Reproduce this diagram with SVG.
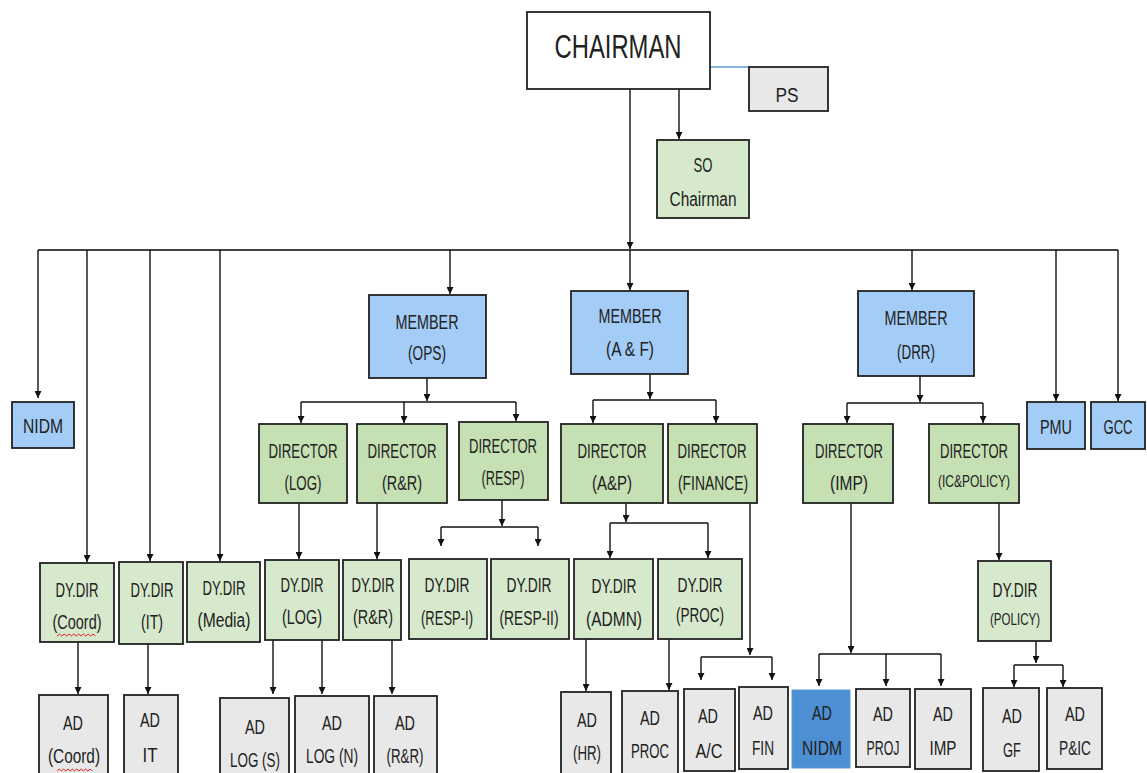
<svg xmlns="http://www.w3.org/2000/svg" width="1147" height="773" viewBox="0 0 1147 773">
<defs>
<marker id="ah" viewBox="0 0 8 8" refX="8" refY="4" markerWidth="7" markerHeight="7" orient="auto" markerUnits="userSpaceOnUse"><path d="M0,0 L8,4 L0,8 z" fill="#111"/></marker>
<style>
.b{stroke:#222;stroke-width:1.8}
.w{fill:#ffffff}
.g{fill:#e8e8e8}
.lb{fill:#a3cdf7}
.dg{fill:#c5e0b3}
.lg{fill:#d7e9cc}
.db{fill:#4d8fd3;stroke:#5b9bd5;stroke-width:1}
.c{fill:none;stroke:#111;stroke-width:1.4}
.ca{fill:none;stroke:#111;stroke-width:1.4;marker-end:url(#ah)}
text{font-family:"Liberation Sans",Arial,sans-serif;font-size:20px;fill:#222;text-anchor:middle}
.s{font-size:17px}
.big{font-size:34px}
.sq{fill:none;stroke:#e02020;stroke-width:1}
</style>
</defs>
<g id="connectors">
<line x1="710" y1="67" x2="749" y2="67" stroke="#5b9bd5" stroke-width="1.6"/>
<path class="ca" d="M679,89 V139"/>
<path class="ca" d="M630,89 V249"/>
<path d="M38,250 H1118" fill="none" stroke="#444" stroke-width="2"/>
<path class="ca" d="M38,250 V398"/>
<path class="ca" d="M87,250 V562"/>
<path class="ca" d="M150,250 V561"/>
<path class="ca" d="M220,250 V561"/>
<path class="ca" d="M450,250 V294"/>
<path class="ca" d="M630,250 V290"/>
<path class="ca" d="M912,250 V290"/>
<path class="ca" d="M1056,250 V401"/>
<path class="ca" d="M1118,250 V401"/>
<path class="ca" d="M427,378 V401"/>
<path class="c" d="M301,402 H516"/>
<path class="ca" d="M301,402 V423"/>
<path class="ca" d="M404,402 V423"/>
<path class="ca" d="M516,402 V421"/>
<path class="ca" d="M650,374 V399"/>
<path class="c" d="M593,400 H716"/>
<path class="ca" d="M593,400 V423"/>
<path class="ca" d="M716,400 V423"/>
<path class="ca" d="M920,376 V402"/>
<path class="c" d="M847,403 H983"/>
<path class="ca" d="M847,403 V423"/>
<path class="ca" d="M983,403 V423"/>
<path class="ca" d="M299,503 V559"/>
<path class="ca" d="M377,503 V559"/>
<path class="ca" d="M502,500 V526"/>
<path class="c" d="M441,527 H538"/>
<path class="ca" d="M441,527 V546"/>
<path class="ca" d="M538,527 V546"/>
<path class="ca" d="M626,503 V522"/>
<path class="c" d="M610,523 H708"/>
<path class="ca" d="M610,523 V558"/>
<path class="ca" d="M708,523 V558"/>
<path class="ca" d="M999,503 V560"/>
<path class="ca" d="M78,642 V694"/>
<path class="ca" d="M148,644 V694"/>
<path class="ca" d="M273,640 V694"/>
<path class="ca" d="M322,640 V694"/>
<path class="ca" d="M392,640 V694"/>
<path class="ca" d="M586,639 V691"/>
<path class="ca" d="M669,639 V690"/>
<path class="ca" d="M750,503 V655"/>
<path class="c" d="M701,657 H772"/>
<path class="ca" d="M701,657 V680"/>
<path class="ca" d="M772,657 V680"/>
<path class="ca" d="M851,503 V653"/>
<path class="c" d="M819,654 H941"/>
<path class="ca" d="M819,654 V686"/>
<path class="ca" d="M886,654 V686"/>
<path class="ca" d="M941,654 V686"/>
<path class="ca" d="M1036,641 V663"/>
<path class="c" d="M1014,665 H1063"/>
<path class="ca" d="M1014,665 V687"/>
<path class="ca" d="M1063,665 V687"/>
</g>
<g id="chairman"><rect class="b w" x="527" y="12" width="183" height="77"/><text class="big" x="618" y="58" textLength="127" lengthAdjust="spacingAndGlyphs">CHAIRMAN</text></g>
<g id="ps"><rect class="b g" x="749" y="67" width="79" height="44"/><text x="787" y="102" textLength="23" lengthAdjust="spacingAndGlyphs">PS</text></g>
<g id="so-chairman"><rect class="b lg" x="657" y="140" width="92" height="78"/><text x="703" y="172" textLength="19" lengthAdjust="spacingAndGlyphs">SO</text><text x="703" y="206" textLength="67" lengthAdjust="spacingAndGlyphs">Chairman</text></g>
<g id="nidm"><rect class="b lb" x="12" y="402" width="62" height="46"/><text x="43" y="433" textLength="40" lengthAdjust="spacingAndGlyphs">NIDM</text></g>
<g id="member-ops"><rect class="b lb" x="369" y="295" width="117" height="83"/><text x="427" y="329" textLength="63" lengthAdjust="spacingAndGlyphs">MEMBER</text><text x="427" y="360" textLength="38" lengthAdjust="spacingAndGlyphs">(OPS)</text></g>
<g id="member-af"><rect class="b lb" x="571" y="291" width="117" height="83"/><text x="630" y="323" textLength="63" lengthAdjust="spacingAndGlyphs">MEMBER</text><text x="630" y="356" textLength="48" lengthAdjust="spacingAndGlyphs">(A &amp; F)</text></g>
<g id="member-drr"><rect class="b lb" x="858" y="291" width="116" height="85"/><text x="916" y="325" textLength="63" lengthAdjust="spacingAndGlyphs">MEMBER</text><text x="916" y="359" textLength="38" lengthAdjust="spacingAndGlyphs">(DRR)</text></g>
<g id="pmu"><rect class="b lb" x="1027" y="402" width="58" height="47"/><text x="1056" y="434" textLength="32" lengthAdjust="spacingAndGlyphs">PMU</text></g>
<g id="gcc"><rect class="b lb" x="1091" y="402" width="54" height="47"/><text x="1118" y="434" textLength="29" lengthAdjust="spacingAndGlyphs">GCC</text></g>
<g id="director-log"><rect class="b dg" x="259" y="424" width="88" height="79"/><text x="303" y="458" textLength="69" lengthAdjust="spacingAndGlyphs">DIRECTOR</text><text x="303" y="490" textLength="37" lengthAdjust="spacingAndGlyphs">(LOG)</text></g>
<g id="director-rr"><rect class="b dg" x="357" y="424" width="90" height="79"/><text x="402" y="458" textLength="69" lengthAdjust="spacingAndGlyphs">DIRECTOR</text><text x="402" y="490" textLength="40" lengthAdjust="spacingAndGlyphs">(R&amp;R)</text></g>
<g id="director-resp"><rect class="b dg" x="459" y="422" width="89" height="78"/><text x="503" y="453" textLength="68" lengthAdjust="spacingAndGlyphs">DIRECTOR</text><text x="503" y="485" textLength="43" lengthAdjust="spacingAndGlyphs">(RESP)</text></g>
<g id="director-ap"><rect class="b dg" x="561" y="424" width="102" height="79"/><text x="612" y="458" textLength="69" lengthAdjust="spacingAndGlyphs">DIRECTOR</text><text x="612" y="490" textLength="40" lengthAdjust="spacingAndGlyphs">(A&amp;P)</text></g>
<g id="director-finance"><rect class="b dg" x="668" y="424" width="89" height="79"/><text x="712" y="458" textLength="69" lengthAdjust="spacingAndGlyphs">DIRECTOR</text><text x="713" y="490" textLength="70" lengthAdjust="spacingAndGlyphs">(FINANCE)</text></g>
<g id="director-imp"><rect class="b dg" x="803" y="424" width="90" height="79"/><text x="849" y="458" textLength="68" lengthAdjust="spacingAndGlyphs">DIRECTOR</text><text x="849" y="490" textLength="38" lengthAdjust="spacingAndGlyphs">(IMP)</text></g>
<g id="director-icpolicy"><rect class="b dg" x="929" y="424" width="90" height="79"/><text x="974" y="458" textLength="68" lengthAdjust="spacingAndGlyphs">DIRECTOR</text><text class="s" x="974" y="487" textLength="72" lengthAdjust="spacingAndGlyphs">(IC&amp;POLICY)</text></g>
<g id="dydir-coord"><rect class="b lg" x="40" y="563" width="74" height="79"/><text x="77" y="597" textLength="43" lengthAdjust="spacingAndGlyphs">DY.DIR</text><text x="77" y="629" textLength="49" lengthAdjust="spacingAndGlyphs">(Coord)</text><path class="sq" d="M57,636 l2.4,-2 l2.4,2 l2.4,-2 l2.4,2 l2.4,-2 l2.4,2 l2.4,-2 l2.4,2 l2.4,-2 l2.4,2 l2.4,-2 l2.4,2 l2.4,-2 l2.4,2 l2.4,-2 l2.4,2"/></g>
<g id="dydir-it"><rect class="b lg" x="119" y="562" width="64" height="82"/><text x="152" y="597" textLength="43" lengthAdjust="spacingAndGlyphs">DY.DIR</text><text x="152" y="629" textLength="22" lengthAdjust="spacingAndGlyphs">(IT)</text></g>
<g id="dydir-media"><rect class="b lg" x="187" y="562" width="73" height="80"/><text x="224" y="595" textLength="43" lengthAdjust="spacingAndGlyphs">DY.DIR</text><text x="224" y="627" textLength="53" lengthAdjust="spacingAndGlyphs">(Media)</text></g>
<g id="dydir-log"><rect class="b lg" x="265" y="560" width="74" height="80"/><text x="302" y="592" textLength="43" lengthAdjust="spacingAndGlyphs">DY.DIR</text><text x="302" y="624" textLength="40" lengthAdjust="spacingAndGlyphs">(LOG)</text></g>
<g id="dydir-rr"><rect class="b lg" x="343" y="560" width="58" height="80"/><text x="373" y="592" textLength="43" lengthAdjust="spacingAndGlyphs">DY.DIR</text><text x="373" y="624" textLength="40" lengthAdjust="spacingAndGlyphs">(R&amp;R)</text></g>
<g id="dydir-resp1"><rect class="b lg" x="409" y="559" width="78" height="80"/><text x="447" y="592" textLength="45" lengthAdjust="spacingAndGlyphs">DY.DIR</text><text x="447" y="625" textLength="52" lengthAdjust="spacingAndGlyphs">(RESP-I)</text></g>
<g id="dydir-resp2"><rect class="b lg" x="491" y="559" width="78" height="80"/><text x="529" y="592" textLength="45" lengthAdjust="spacingAndGlyphs">DY.DIR</text><text x="529" y="625" textLength="59" lengthAdjust="spacingAndGlyphs">(RESP-II)</text></g>
<g id="dydir-admn"><rect class="b lg" x="574" y="559" width="79" height="80"/><text x="614" y="593" textLength="45" lengthAdjust="spacingAndGlyphs">DY.DIR</text><text x="614" y="626" textLength="56" lengthAdjust="spacingAndGlyphs">(ADMN)</text></g>
<g id="dydir-proc"><rect class="b lg" x="658" y="559" width="84" height="80"/><text x="700" y="592" textLength="45" lengthAdjust="spacingAndGlyphs">DY.DIR</text><text x="700" y="622" textLength="48" lengthAdjust="spacingAndGlyphs">(PROC)</text></g>
<g id="dydir-policy"><rect class="b lg" x="978" y="561" width="73" height="80"/><text x="1015" y="597" textLength="45" lengthAdjust="spacingAndGlyphs">DY.DIR</text><text class="s" x="1015" y="625" textLength="50" lengthAdjust="spacingAndGlyphs">(POLICY)</text></g>
<g id="ad-coord"><rect class="b g" x="39" y="695" width="69" height="82"/><text x="73" y="730" textLength="20" lengthAdjust="spacingAndGlyphs">AD</text><text x="74" y="763" textLength="52" lengthAdjust="spacingAndGlyphs">(Coord)</text><path class="sq" d="M57,771 l2.2,-2 l2.2,2 l2.2,-2 l2.2,2 l2.2,-2 l2.2,2 l2.2,-2 l2.2,2 l2.2,-2 l2.2,2 l2.2,-2 l2.2,2 l2.2,-2 l2.2,2 l2.2,-2 l2.2,2"/></g>
<g id="ad-it"><rect class="b g" x="124" y="695" width="54" height="82"/><text x="150" y="727" textLength="20" lengthAdjust="spacingAndGlyphs">AD</text><text x="150" y="762" textLength="15" lengthAdjust="spacingAndGlyphs">IT</text></g>
<g id="ad-log-s"><rect class="b g" x="220" y="698" width="69" height="80"/><text x="255" y="734" textLength="20" lengthAdjust="spacingAndGlyphs">AD</text><text x="255" y="767" textLength="50" lengthAdjust="spacingAndGlyphs">LOG (S)</text></g>
<g id="ad-log-n"><rect class="b g" x="295" y="696" width="74" height="80"/><text x="332" y="730" textLength="20" lengthAdjust="spacingAndGlyphs">AD</text><text x="332" y="763" textLength="52" lengthAdjust="spacingAndGlyphs">LOG (N)</text></g>
<g id="ad-rr"><rect class="b g" x="374" y="696" width="63" height="80"/><text x="405" y="730" textLength="20" lengthAdjust="spacingAndGlyphs">AD</text><text x="405" y="763" textLength="37" lengthAdjust="spacingAndGlyphs">(R&amp;R)</text></g>
<g id="ad-hr"><rect class="b g" x="561" y="692" width="50" height="82"/><text x="587" y="727" textLength="20" lengthAdjust="spacingAndGlyphs">AD</text><text x="587" y="760" textLength="28" lengthAdjust="spacingAndGlyphs">(HR)</text></g>
<g id="ad-proc"><rect class="b g" x="622" y="691" width="56" height="83"/><text x="650" y="725" textLength="20" lengthAdjust="spacingAndGlyphs">AD</text><text x="650" y="758" textLength="38" lengthAdjust="spacingAndGlyphs">PROC</text></g>
<g id="ad-ac"><rect class="b g" x="684" y="689" width="51" height="82"/><text x="708" y="723" textLength="20" lengthAdjust="spacingAndGlyphs">AD</text><text x="709" y="758" textLength="27" lengthAdjust="spacingAndGlyphs">A/C</text></g>
<g id="ad-fin"><rect class="b g" x="739" y="687" width="49" height="82"/><text x="763" y="720" textLength="20" lengthAdjust="spacingAndGlyphs">AD</text><text x="763" y="755" textLength="22" lengthAdjust="spacingAndGlyphs">FIN</text></g>
<g id="ad-nidm"><rect class="db" x="792" y="690" width="58" height="78"/><text x="822" y="720" textLength="20" lengthAdjust="spacingAndGlyphs">AD</text><text x="822" y="755" textLength="40" lengthAdjust="spacingAndGlyphs">NIDM</text></g>
<g id="ad-proj"><rect class="b g" x="856" y="689" width="54" height="78"/><text x="883" y="721" textLength="20" lengthAdjust="spacingAndGlyphs">AD</text><text x="883" y="755" textLength="33" lengthAdjust="spacingAndGlyphs">PROJ</text></g>
<g id="ad-imp"><rect class="b g" x="915" y="689" width="56" height="80"/><text x="943" y="721" textLength="20" lengthAdjust="spacingAndGlyphs">AD</text><text x="943" y="755" textLength="27" lengthAdjust="spacingAndGlyphs">IMP</text></g>
<g id="ad-gf"><rect class="b g" x="983" y="688" width="56" height="83"/><text x="1012" y="723" textLength="20" lengthAdjust="spacingAndGlyphs">AD</text><text x="1012" y="757" textLength="18" lengthAdjust="spacingAndGlyphs">GF</text></g>
<g id="ad-pic"><rect class="b g" x="1047" y="688" width="55" height="81"/><text x="1075" y="721" textLength="20" lengthAdjust="spacingAndGlyphs">AD</text><text x="1075" y="755" textLength="32" lengthAdjust="spacingAndGlyphs">P&amp;IC</text></g>
</svg>
